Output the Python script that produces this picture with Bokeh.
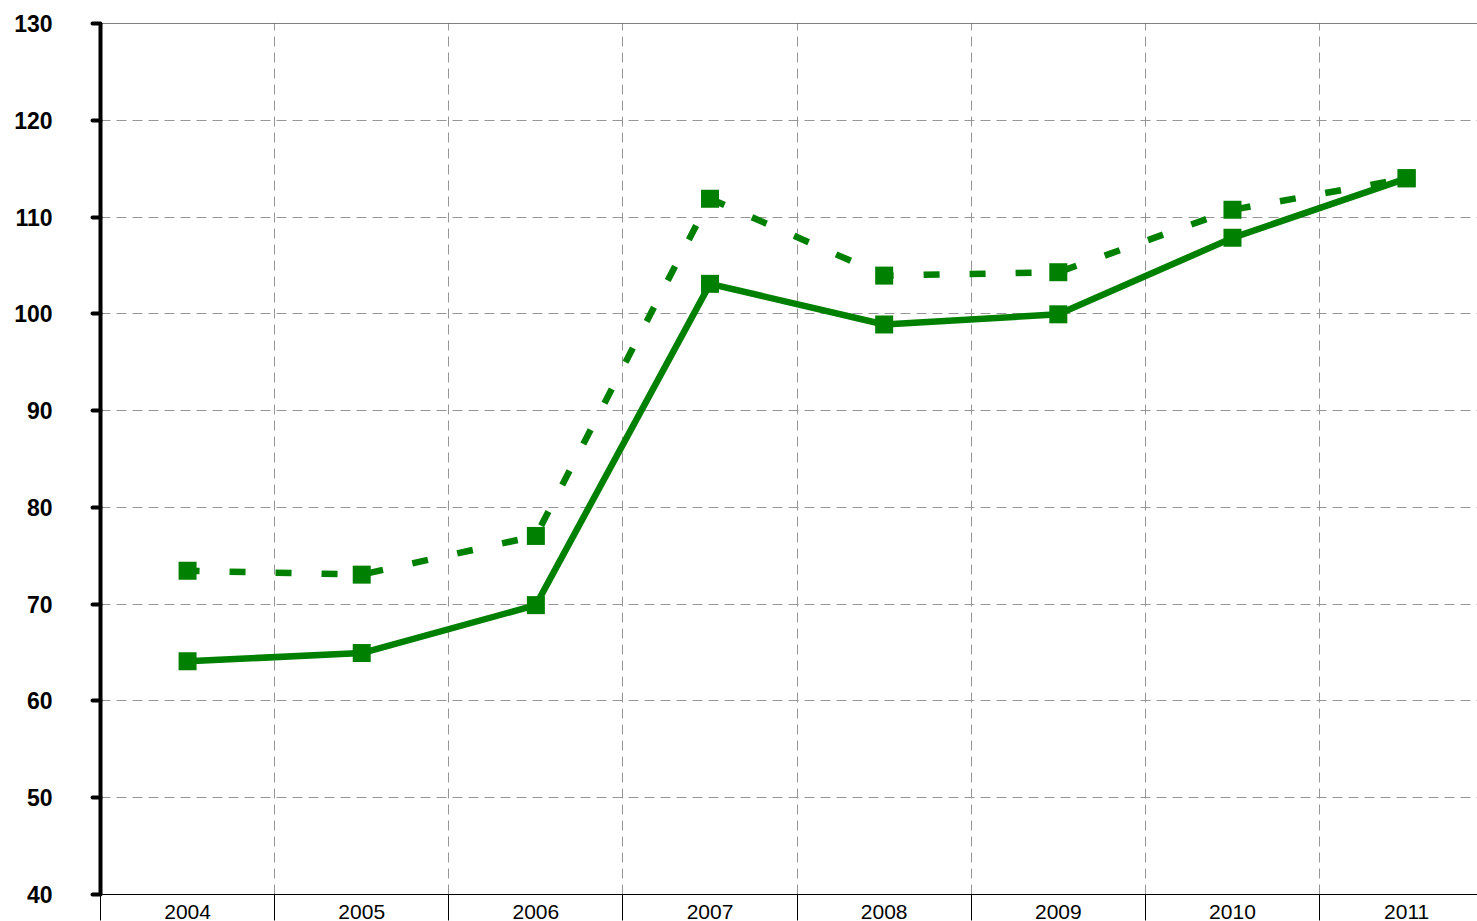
from bokeh.plotting import figure
from bokeh.models import Range1d, FixedTicker, Span, LinearAxis, Grid
from bokeh.embed import file_html
from bokeh.resources import INLINE

years = ["2004", "2005", "2006", "2007", "2008", "2009", "2010", "2011"]
solid_values = [64.1, 64.95, 69.9, 103.1, 98.9, 99.95, 107.85, 114.0]
dashed_values = [73.45, 73.05, 77.05, 111.9, 103.95, 104.3, 110.75, 114.0]
y_ticks = [40, 50, 60, 70, 80, 90, 100, 110, 120, 130]

GREEN = "#008000"
xs = [i + 0.5 for i in range(len(years))]

p = figure(width=1477, height=921, output_backend="svg", toolbar_location=None,
           x_range=Range1d(0, 7.907), y_range=Range1d(40, 130),
           min_border_left=100, min_border_right=0, min_border_top=23, min_border_bottom=26,
           x_axis_type=None, y_axis_type=None)
p.outline_line_color = None
p.background_fill_color = "white"

# x axis: labels centred in categories, boundary ticks as minor ticks
xaxis = LinearAxis(ticker=FixedTicker(ticks=xs, minor_ticks=list(range(0, 9))))
xaxis.major_label_overrides = {x: y for x, y in zip(xs, years)}
xaxis.major_tick_line_color = None
xaxis.major_tick_out = 0
xaxis.major_tick_in = 0
xaxis.minor_tick_out = 26
xaxis.minor_tick_in = 0
xaxis.minor_tick_line_color = "black"
xaxis.minor_tick_line_width = 1
xaxis.axis_line_color = "black"
xaxis.axis_line_width = 1
xaxis.major_label_text_font = "Liberation Sans"
xaxis.major_label_text_font_size = "21px"
xaxis.major_label_text_color = "black"
xaxis.major_label_standoff = -16
p.add_layout(xaxis, "below")

yaxis = LinearAxis(ticker=FixedTicker(ticks=y_ticks))
yaxis.axis_line_width = 4
yaxis.axis_line_color = "black"
yaxis.major_tick_out = 8
yaxis.major_tick_in = 0
yaxis.major_tick_line_width = 4
yaxis.major_tick_line_cap = "round"
yaxis.minor_tick_line_color = None
yaxis.major_label_text_font = "Liberation Sans"
yaxis.major_label_text_font_style = "bold"
yaxis.major_label_text_font_size = "23px"
yaxis.major_label_text_color = "black"
yaxis.major_label_standoff = 40
p.add_layout(yaxis, "left")

xgrid = Grid(dimension=0, ticker=FixedTicker(ticks=list(range(1, 9))))
ygrid = Grid(dimension=1, ticker=FixedTicker(ticks=y_ticks[1:-1]))
for g in (xgrid, ygrid):
    g.grid_line_color = "#969696"
    g.grid_line_dash = "10 6"
    g.grid_line_width = 1
    p.add_layout(g)

p.add_layout(Span(location=130, dimension="width", line_color="black", line_width=1))

p.line(xs, dashed_values, line_color=GREEN, line_width=6.5, line_dash="16 30", line_dash_offset=4)
p.scatter(xs, dashed_values, marker="square", size=18, fill_color=GREEN, line_color=None)
p.line(xs, solid_values, line_color=GREEN, line_width=6.5)
p.scatter(xs, solid_values, marker="square", size=18, fill_color=GREEN, line_color=None)

open("out.html", "w").write(file_html(p, INLINE))
